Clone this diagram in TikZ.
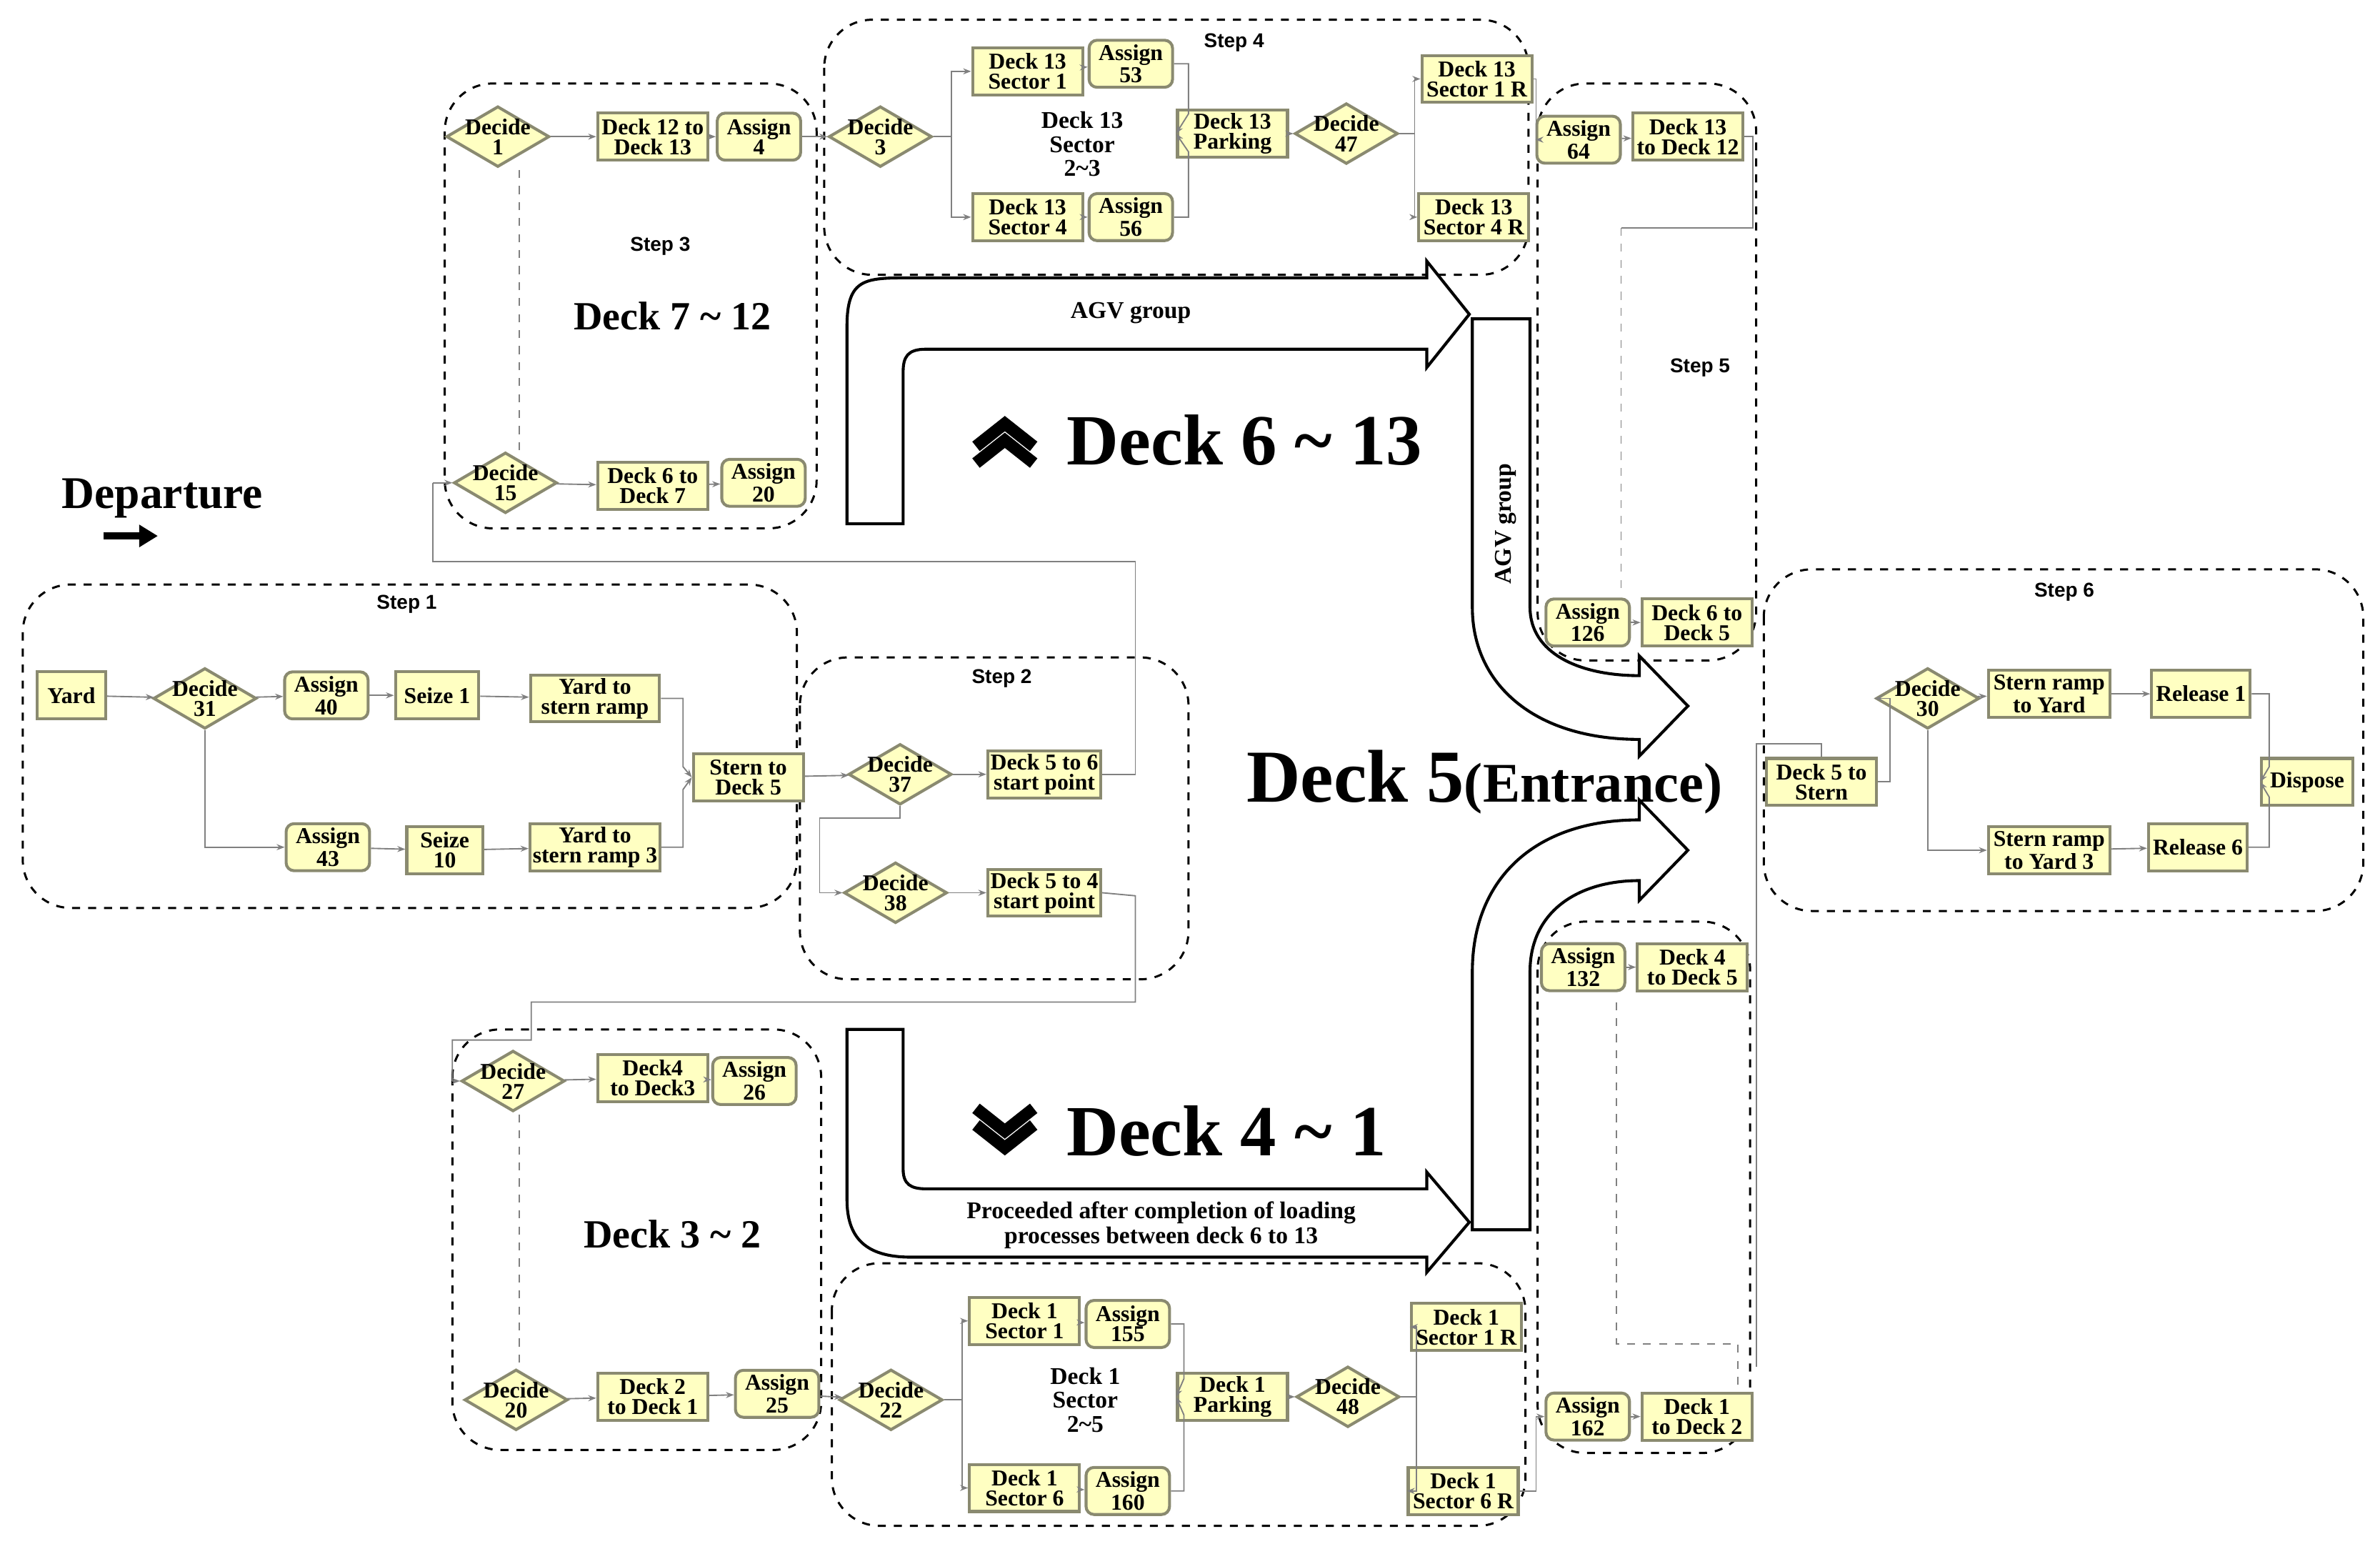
\documentclass[tikz,border=0pt]{standalone}
\usepackage{fontspec}
\setmainfont{Liberation Serif}
\newfontfamily\sansf{Liberation Sans}
\usetikzlibrary{shapes.geometric,arrows.meta}
\definecolor{mody}{HTML}{FFFFC2}
\definecolor{modb}{HTML}{8A8A70}
\tikzset{
 base/.style={fill=mody,draw=modb,line width=1.1pt,align=center,inner sep=1pt,
   font=\fontsize{8.5}{7.5}\selectfont\bfseries},
 mod/.style={base,rectangle,minimum width=1.45cm,minimum height=0.62cm},
 asg/.style={base,rectangle,rounded corners=3pt,minimum width=1.1cm,minimum height=0.62cm},
 dec/.style={base,diamond,minimum width=1.36cm,minimum height=0.8cm,inner sep=0pt},
 dt/.style={font=\fontsize{8.5}{7.5}\selectfont\bfseries,align=center,inner sep=0pt},
 grp/.style={draw,dashed,rounded corners=18pt,line width=0.8pt},
 steplbl/.style={font=\sansf\bfseries\fontsize{7.5}{8}\selectfont},
 con/.style={draw=gray,line width=0.5pt,-{Stealth[length=3pt]}},
 ln/.style={draw=gray,line width=0.5pt},
 big/.style={fill=white,draw=black,line width=1.1pt},
}
\newcommand{\Dec}[3]{\node[dec,label={[dt]center:#3}] (#1) at (#2) {};}
\begin{document}
\begin{tikzpicture}[x=0.02cm,y=-0.02cm]
\useasboundingbox (0,0) rectangle (1568,1020);
% group boxes
\draw[grp] (293,55) rectangle (538,348);
\draw[grp] (543,13) rectangle (1007,181);
\draw[grp] (1013,55) rectangle (1157,435);
\draw[grp] (1162,375) rectangle (1557,600);
\draw[grp] (15,385) rectangle (525,598);
\draw[grp] (527,433) rectangle (783,645);
\draw[grp] (298,678) rectangle (541,955);
\draw[grp] (548,832) rectangle (1005,1005);
\draw[grp] (1013,607) rectangle (1153,957);
\node[steplbl] at (435,162) {Step 3};
\node[steplbl] at (813,28) {Step 4};
\node[steplbl] at (1120,242) {Step 5};
\node[steplbl] at (1360,390) {Step 6};
\node[steplbl] at (268,398) {Step 1};
\node[steplbl] at (660,447) {Step 2};
% big arrows
\draw[big] (558,345) -- (558,215) .. controls (558,183) and (570,183) .. (600,183) -- (940,183) -- (940,172) -- (968,207) -- (940,242) -- (940,230) -- (610,230) .. controls (598,230) and (595,235) .. (595,245) -- (595,345) -- cycle;
\draw[big] (970,210) -- (1008,210) -- (1008,400) .. controls (1008,430) and (1040,445) .. (1080,445) -- (1080,432) -- (1112,465) -- (1080,498) -- (1080,487) .. controls (1010,487) and (970,450) .. (970,400) -- cycle;
\draw[big] (970,810) -- (970,640) .. controls (970,580) and (1010,540) .. (1080,540) -- (1080,527) -- (1112,560) -- (1080,593) -- (1080,580) .. controls (1040,580) and (1008,600) .. (1008,640) -- (1008,810) -- cycle;
\draw[big] (558,678) -- (595,678) -- (595,770) .. controls (595,780) and (600,783) .. (610,783) -- (940,783) -- (940,772) -- (968,805) -- (940,838) -- (940,828) -- (600,828) .. controls (570,828) and (558,815) .. (558,790) -- cycle;
\node[font=\bfseries\fontsize{9}{10}\selectfont] (agv1) at (745,206) {AGV group};
\node[font=\bfseries\fontsize{9}{10}\selectfont,rotate=90] (agv2) at (992,345) {AGV group};
\node[font=\bfseries\fontsize{9}{9.5}\selectfont,align=center] (proc) at (765,807) {Proceeded after completion of loading\\processes between deck 6 to 13};
% big texts
\node[font=\bfseries\fontsize{17}{18}\selectfont] (dep) at (107,328) {Departure};
\draw[-{Triangle[length=7pt,width=8pt]},line width=2.5pt] (68,353) -- (104,353);
\node[font=\bfseries\fontsize{27}{30}\selectfont] (d613) at (820,290) {Deck 6 \textasciitilde{} 13};
\node[font=\bfseries\fontsize{27}{30}\selectfont] (d41) at (808,745) {Deck 4 \textasciitilde{} 1};
\node[font=\bfseries\fontsize{15}{16}\selectfont] (d712) at (443,208) {Deck 7 \textasciitilde{} 12};
\node[font=\bfseries\fontsize{15}{16}\selectfont] (d32) at (443,813) {Deck 3 \textasciitilde{} 2};
\node[font=\bfseries,anchor=center] (d5e) at (978,515) {\fontsize{28}{30}\selectfont Deck 5\fontsize{21}{24}\selectfont(Entrance)};
\draw[line width=4.5pt] (643,294)--(662,279)--(681,294) (643,305)--(662,290)--(681,305);
\draw[line width=4.5pt] (643,730)--(662,745)--(681,730) (643,741)--(662,756)--(681,741);
% Step 3
\Dec{d1}{328,90}{Decide\\1}
\node[mod] (m1213) at (430,90) {Deck 12 to\\Deck 13};
\node[asg] (a4) at (500,90) {Assign\\4};
\Dec{d15}{333,318}{Decide\\15}
\node[mod] (m67) at (430,320) {Deck 6 to\\Deck 7};
\node[asg] (a20) at (503,318) {Assign\\20};
\draw[ln,dashed] (342,112) -- (342,298);
\draw[con] (d1) -- (m1213); \draw[con] (m1213) -- (a4);
\draw[con] (d15) -- (m67); \draw[con] (m67) -- (a20);
% Step 4
\Dec{d3}{580,90}{Decide\\3}
\node[mod] (s1) at (677,47) {Deck 13\\Sector 1};
\node[asg] (a53) at (745,42) {Assign\\53};
\node[dt,font=\fontsize{9}{9}\selectfont\bfseries] (s23) at (713,95) {Deck 13\\Sector\\2\textasciitilde{}3};
\node[mod] (s4) at (677,143) {Deck 13\\Sector 4};
\node[asg] (a56) at (745,143) {Assign\\56};
\node[mod] (park) at (812,88) {Deck 13\\Parking};
\Dec{d47}{887,88}{Decide\\47}
\node[mod] (s1r) at (973,52) {Deck 13\\Sector 1 R};
\node[mod] (s4r) at (971,143) {Deck 13\\Sector 4 R};
\draw[con] (a4) -- (d3);
\draw[con] (d3.east) -- ++(12,0) |- (s1);
\draw[con] (d3.east) -- ++(12,0) |- (s4);
\draw[con] (s1) -- (a53); \draw[con] (s4) -- (a56);
\draw[con] (a53.east) -| (783,75) -- (park.west);
\draw[con] (a56.east) -| (783,100) -- (park.west);
\draw[con] (park) -- (d47);
\draw[con] (d47.east) -- ++(10,0) |- (s1r);
\draw[con] (d47.east) -- ++(10,0) |- (s4r);
% Step 5
\node[asg] (a64) at (1040,92) {Assign\\64};
\node[mod] (m1312) at (1112,90) {Deck 13\\to Deck 12};
\node[asg] (a126) at (1046,410) {Assign\\126};
\node[mod] (m65) at (1118,410) {Deck 6 to\\Deck 5};
\draw[con] (s1r.east) -- (1012,52) |- (a64.west);
\draw[con] (a64) -- (m1312);
\draw[ln] (m1312.east) -- (1155,90) -- (1155,150) -- (1068,150);
\draw[ln,dashed] (1068,150) -- (1068,390);
\draw[con] (a126) -- (m65);
% Step 1
\node[mod,minimum width=0.9cm] (yard) at (47,458) {Yard};
\Dec{d31}{135,460}{Decide\\31}
\node[asg] (a40) at (215,458) {Assign\\40};
\node[mod,minimum width=1.1cm] (sz1) at (288,458) {Seize 1};
\node[mod,minimum width=1.7cm] (ysr) at (392,460) {Yard to\\stern ramp};
\node[asg] (a43) at (216,558) {Assign\\43};
\node[mod,minimum width=1.0cm] (sz10) at (293,560) {Seize\\10};
\node[mod,minimum width=1.7cm] (ysr3) at (392,558) {Yard to\\stern ramp 3};
\node[mod] (std5) at (493,512) {Stern to\\Deck 5};
\draw[con] (yard) -- (d31); \draw[con] (d31) -- (a40); \draw[con] (a40) -- (sz1); \draw[con] (sz1) -- (ysr);
\draw[con] (d31.south) |- (a43.west);
\draw[con] (a43) -- (sz10); \draw[con] (sz10) -- (ysr3);
\draw[con] (ysr.east) -| (450,505) -- (std5.west);
\draw[con] (ysr3.east) -| (450,520) -- (std5.west);
% Step 2
\Dec{d37}{593,510}{Decide\\37}
\node[mod] (m56) at (688,510) {Deck 5 to 6\\start point};
\Dec{d38}{590,588}{Decide\\38}
\node[mod] (m54) at (688,588) {Deck 5 to 4\\start point};
\draw[con] (std5) -- (d37); \draw[con] (d37) -- (m56);
\draw[con] (d37.south) -- ++(0,8) -| (540,588) -- (d38.west);
\draw[con] (d38) -- (m54);
\draw[ln] (m56.east) -- (748,510) -- (748,370) -- (285,370) -- (285,318);
\draw[con] (285,318) -- (d15.west);
\draw[ln] (m54.east) -- (748,590) -- (748,660) -- (350,660) -- (350,685) -- (298,685) -- (298,712);
% Bottom left
\Dec{d27}{338,712}{Decide\\27}
\node[mod] (m43) at (430,710) {Deck4\\to Deck3};
\node[asg] (a26) at (497,712) {Assign\\26};
\Dec{d20}{340,922}{Decide\\20}
\node[mod] (m21) at (430,920) {Deck 2\\to Deck 1};
\node[asg] (a25) at (512,918) {Assign\\25};
\draw[con] (298,712) -- (d27.west);
\draw[con] (d27) -- (m43); \draw[con] (m43) -- (a26);
\draw[ln,dashed] (342,734) -- (342,900);
\draw[con] (d20) -- (m21); \draw[con] (m21) -- (a25);
% Bottom step
\Dec{d22}{587,922}{Decide\\22}
\node[mod] (b1) at (675,870) {Deck 1\\Sector 1};
\node[asg] (a155) at (743,872) {Assign\\155};
\node[dt,font=\fontsize{9}{9}\selectfont\bfseries] (b25) at (715,922) {Deck 1\\Sector\\2\textasciitilde{}5};
\node[mod] (b6) at (675,980) {Deck 1\\Sector 6};
\node[asg] (a160) at (743,982) {Assign\\160};
\node[mod] (bpark) at (812,920) {Deck 1\\Parking};
\Dec{d48}{888,920}{Decide\\48}
\node[mod] (b1r) at (966,874) {Deck 1\\Sector 1 R};
\node[mod] (b6r) at (964,982) {Deck 1\\Sector 6 R};
\draw[con] (a25) -- (d22);
\draw[con] (d22.east) -- ++(12,0) |- (b1);
\draw[con] (d22.east) -- ++(12,0) |- (b6);
\draw[con] (b1) -- (a155); \draw[con] (b6) -- (a160);
\draw[con] (a155.east) -| (780,908) -- (bpark.west);
\draw[con] (a160.east) -| (780,932) -- (bpark.west);
\draw[con] (bpark) -- (d48);
\draw[con] (d48.east) -- ++(10,0) |- (b1r);
\draw[con] (d48.east) -- ++(10,0) |- (b6r);
% right bottom
\node[asg] (a132) at (1043,637) {Assign\\132};
\node[mod] (m45) at (1115,637) {Deck 4\\to Deck 5};
\node[asg] (a162) at (1046,933) {Assign\\162};
\node[mod] (m12) at (1118,933) {Deck 1\\to Deck 2};
\draw[con] (a132) -- (m45); \draw[con] (a162) -- (m12);
\draw[con] (b6r.east) -- (1012,982) |- (a162.west);
\draw[ln,dashed] (1065,660) -- (1065,885) -- (1145,885) -- (1145,915);
% Step 6
\node[mod] (d5s) at (1200,515) {Deck 5 to\\Stern};
\Dec{d30}{1270,460}{Decide\\30}
\node[mod,minimum width=1.6cm] (sry) at (1350,457) {Stern ramp\\to Yard};
\node[mod,minimum width=1.3cm] (r1) at (1450,457) {Release 1};
\node[mod,minimum width=1.6cm] (sry3) at (1350,560) {Stern ramp\\to Yard 3};
\node[mod,minimum width=1.3cm] (r6) at (1448,558) {Release 6};
\node[mod,minimum width=1.2cm] (disp) at (1520,515) {Dispose};
\draw[ln] (1157,900) -- (1157,490) -- (1200,490) -- (d5s.north);
\draw[con] (d5s.east) -- (1245,515) |- (d30.west);
\draw[con] (d30) -- (sry); \draw[con] (sry) -- (r1);
\draw[con] (d30.south) |- (sry3.west);
\draw[con] (sry3) -- (r6);
\draw[con] (r1.east) -| (1495,505) -- (disp.west);
\draw[con] (r6.east) -| (1495,525) -- (disp.west);
\end{tikzpicture}
\end{document}
